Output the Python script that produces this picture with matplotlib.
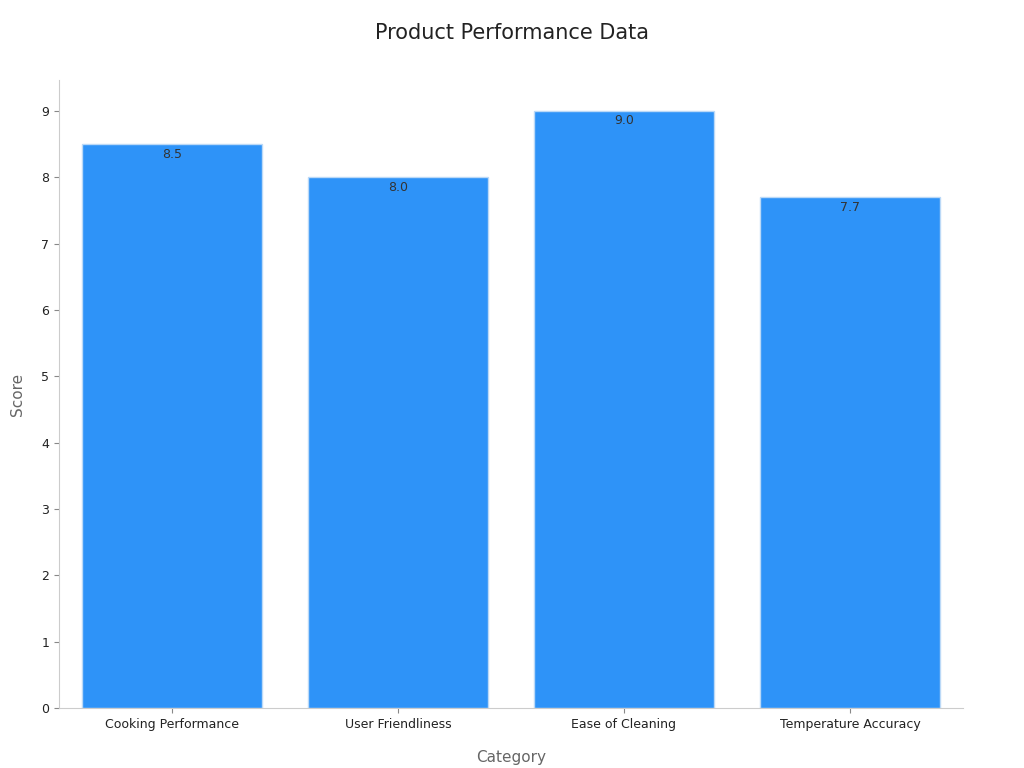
import matplotlib
matplotlib.use("Agg")
import matplotlib.pyplot as plt

categories = ["Cooking Performance", "User Friendliness", "Ease of Cleaning", "Temperature Accuracy"]
scores = [8.5, 8.0, 9.0, 7.7]

fig = plt.figure(figsize=(10.24, 7.68), dpi=100)
ax = fig.add_axes([0.0576, 0.078, 0.8828, 0.818])

bars = ax.bar(range(len(categories)), scores, width=0.8, color="#2E93F8",
              edgecolor="#BBD9F7", linewidth=1)
for b, v in zip(bars, scores):
    ax.text(b.get_x() + b.get_width() / 2, v - 0.05, f"{v:.1f}", ha="center", va="top",
            fontsize=9, color="#333333")

ax.set_xlim(-0.5, 3.5)
ax.set_ylim(0, 9.47)
ax.set_xticks(range(len(categories)))
ax.set_xticklabels(categories, fontsize=9, color="#222222")
ax.set_yticks(range(10))
ax.tick_params(axis="y", labelsize=9, colors="#222222")
ax.tick_params(color="#888888")
for s in ["top", "right"]:
    ax.spines[s].set_visible(False)
for s in ["left", "bottom"]:
    ax.spines[s].set_color("#CCCCCC")

ax.set_xlabel("Category", fontsize=11, color="#666666", labelpad=14)
ax.set_ylabel("Score", fontsize=11, color="#666666", labelpad=12)
fig.suptitle("Product Performance Data", fontsize=15, color="#222222", y=0.97)

fig.savefig("out.png", dpi=100, facecolor="white")
